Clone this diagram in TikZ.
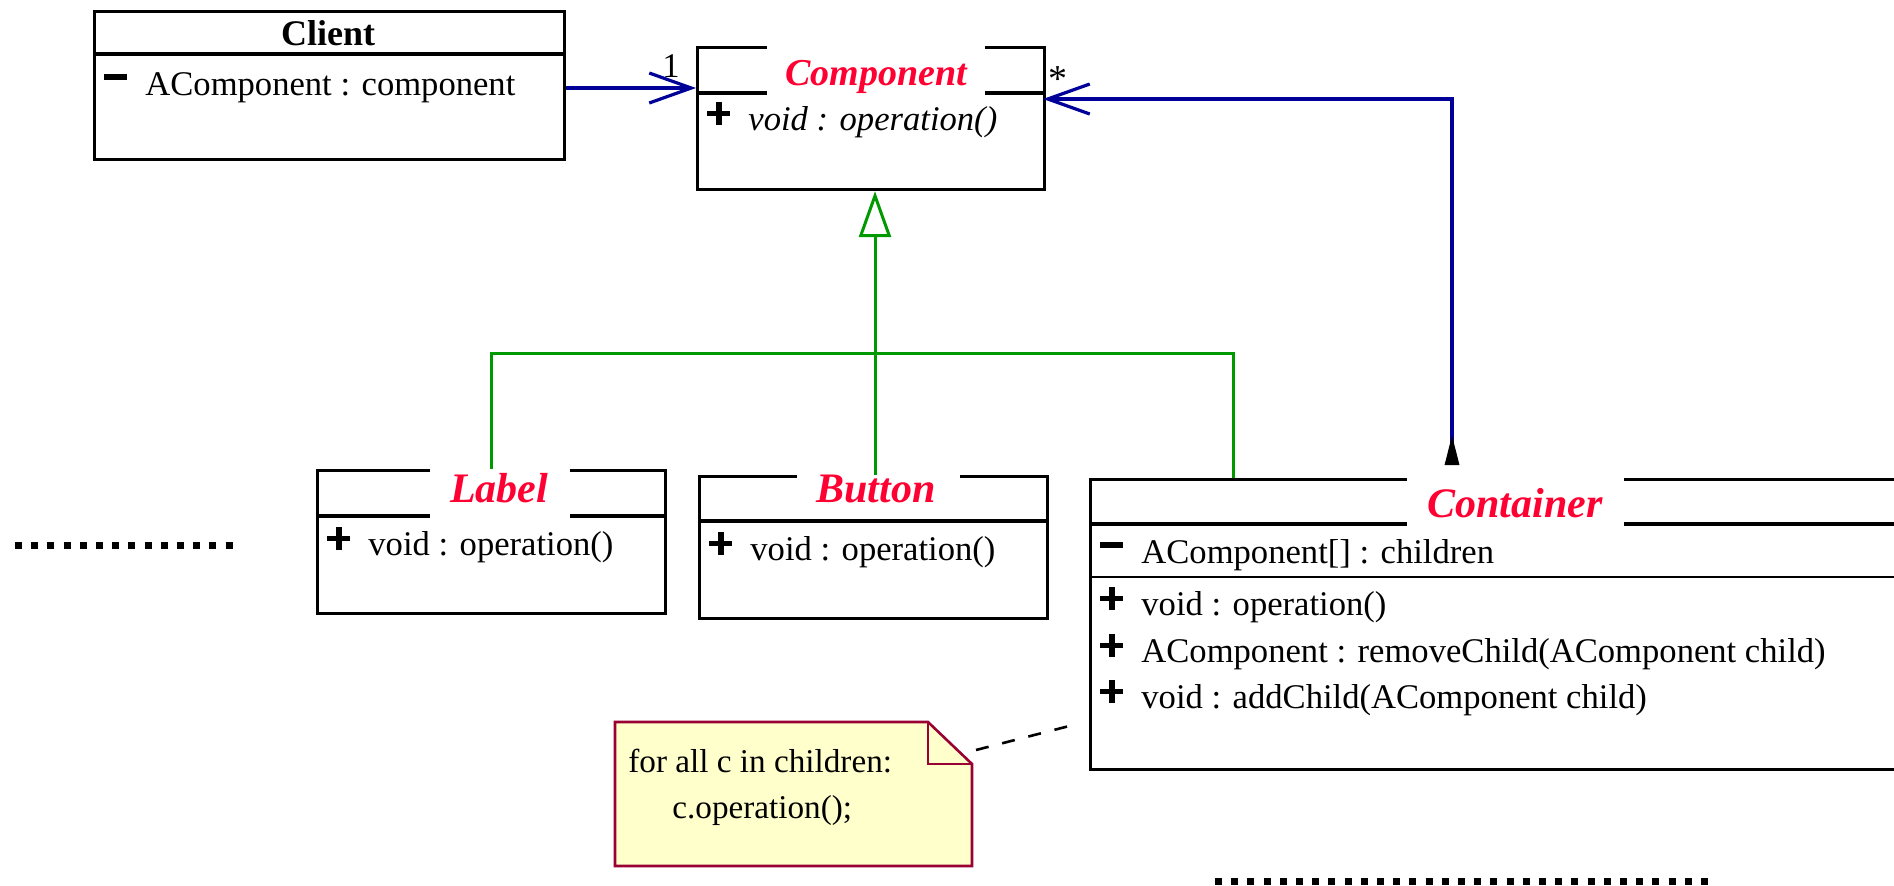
\documentclass[tikz,border=0pt]{standalone}
\usepackage{fontspec}
\setmainfont{Liberation Serif}
\usepackage{xcolor}
\usetikzlibrary{arrows.meta}
\usetikzlibrary{positioning}

\definecolor{umlred}{RGB}{255,0,51}
\definecolor{umlblue}{RGB}{0,0,153}
\definecolor{umlgreen}{RGB}{0,153,0}
\definecolor{noteyellow}{RGB}{255,255,204}
\definecolor{noteborder}{RGB}{153,0,51}

\newcommand{\pubsign}{\makebox[20.5pt][l]{\rlap{\rule[6.85pt]{11.5pt}{2.8pt}}\hspace*{4.35pt}\rule[2.5pt]{2.8pt}{11.5pt}}}
\newcommand{\privsign}{\makebox[20.5pt][l]{\rule[7.5pt]{11.5pt}{2.8pt}}}

\begin{document}
\begin{tikzpicture}[x=0.5pt,y=-0.5pt]
	\useasboundingbox (0,0) rectangle (1894,885);
	\clip (0,0) rectangle (1894,885);
	
	\tikzstyle{classbox} = [draw,line width=1.6pt,anchor=north west,inner sep=0pt]
	\tikzstyle{classline} = [line width=1.6pt]
	\tikzstyle{member} = [anchor=base west,inner sep=0pt,font=\fontsize{17.3}{20}\selectfont]
	\tikzstyle{ctitle} = [anchor=base,inner sep=0pt,text=umlred,font=\fontsize{21}{24}\selectfont\bfseries\itshape]
	\tikzstyle{mult} = [anchor=base,inner sep=0pt,font=\fontsize{17.3}{20}\selectfont]
	\tikzstyle{nav} = [umlblue,line width=1.6pt,-{Straight Barb[length=21pt,width=15pt]}]
	\tikzstyle{genline} = [umlgreen,line width=1.5pt]
	\tikzstyle{inh} = [genline,-{Triangle[open,length=23pt,width=16pt]}]
	\tikzstyle{notebox} = [draw=noteborder,fill=noteyellow,line width=1.3pt]
	\tikzstyle{notelink} = [line width=1.3pt,dash pattern=on 6.5pt off 7pt]
	\tikzstyle{ellipsis} = [line width=3.5pt,dash pattern=on 3.5pt off 4.6pt]
	
	% Client
	\node[classbox,minimum width=235pt,minimum height=74pt] (client) at (93,10) {};
	\draw[classline] (93,54) -- (563,54);
	\node[anchor=base,inner sep=0pt,font=\fontsize{18}{20}\selectfont\bfseries] (clienttitle) at (328,45) {Client};
	\node[member] (clientattr) at (104,95) {\privsign AComponent : component};
	
	% Component
	\node[classbox,minimum width=173.5pt,minimum height=71pt] (comp) at (696,46) {};
	\draw[classline] (696,93) -- (1043,93);
	\fill[white] (767,38) rectangle (985,100);
	\node[ctitle,font=\fontsize{19}{22}\selectfont\bfseries\itshape] (comptitle) at (876,85) {Component};
	\node[member] (compop) at (707,130) {\pubsign\textit{void : operation()}};
	
	% Label
	\node[classbox,minimum width=174pt,minimum height=71.5pt] (label) at (316,469) {};
	\draw[classline] (316,516) -- (664,516);
	\fill[white] (430,462) rectangle (570,523);
	\node[ctitle] (labeltitle) at (499,502) {Label};
	\node[member] (labelop) at (327,555) {\pubsign void : operation()};
	
	% Button
	\node[classbox,minimum width=174pt,minimum height=71pt] (button) at (698,475) {};
	\draw[classline] (698,521) -- (1046,521);
	\fill[white] (797,469) rectangle (960,482);
	\node[ctitle] (buttontitle) at (876,502) {Button};
	\node[member] (buttonop) at (709,560) {\pubsign void : operation()};
	
	% Container
	\node[classbox,minimum width=415.5pt,minimum height=145pt] (container) at (1089,478) {};
	\draw[classline] (1089,524) -- (1920,524);
	\draw[line width=1.2pt] (1089,577) -- (1920,577);
	\fill[white] (1407,471) rectangle (1624,531);
	\node[ctitle] (containertitle) at (1515,517) {Container};
	\node[member] (contattr) at (1100,563) {\privsign AComponent[] : children};
	\node[member] (contop) at (1100,615) {\pubsign void : operation()};
	\node[member] (contremove) at (1100,662) {\pubsign AComponent : removeChild(AComponent child)};
	\node[member] (contadd) at (1100,708) {\pubsign void : addChild(AComponent child)};
	
	% note
	\draw[notebox] (615,722) -- (928,722) -- (972,764) -- (972,866) -- (615,866) -- cycle;
	\draw[draw=noteborder,line width=1.3pt] (928,722) -- (928,764) -- (972,764);
	\node[member,font=\fontsize{16.6}{20}\selectfont] (note1) at (628,772) {for all c in children:};
	\node[member,font=\fontsize{16.6}{20}\selectfont] (note2) at (672,818) {c.operation();};
	
	% connection points
	\coordinate (compin) at (696,88);
	\coordinate (compagg) at (1043,99);
	\coordinate (contagg) at (1452,478);
	\coordinate (contgen) at (1233,478);
	\coordinate (genbus) at (875,353);
	\coordinate (notecnr) at (976,750);
	\coordinate (contnote) at (1077,724);
	
	\draw[nav] (client.east |- compin) -- (compin);
	\node[mult] (onemult) at (671,77) {1};
	\draw[nav,{Triangle[reversed,color=black,length=15pt,width=7pt]}-{Straight Barb[length=21pt,width=15pt]},shorten <=6.5pt] (contagg) |- (compagg);
	\node[mult,font=\fontsize{19}{20}\selectfont] (manymult) at (1058,91) {*};
	
	\draw[inh] (genbus) -- (genbus |- comp.south);
	\draw[genline] (label.north) |- (genbus);
	\draw[genline] (genbus) -- (genbus |- button.north);
	\draw[genline] (contgen) |- (genbus);
	
	\draw[notelink] (notecnr) -- (contnote);
	
	\draw[ellipsis] (15,545) -- (240,545);
	\draw[ellipsis] (1215,881) -- (1708,881);

\end{tikzpicture}
\end{document}
